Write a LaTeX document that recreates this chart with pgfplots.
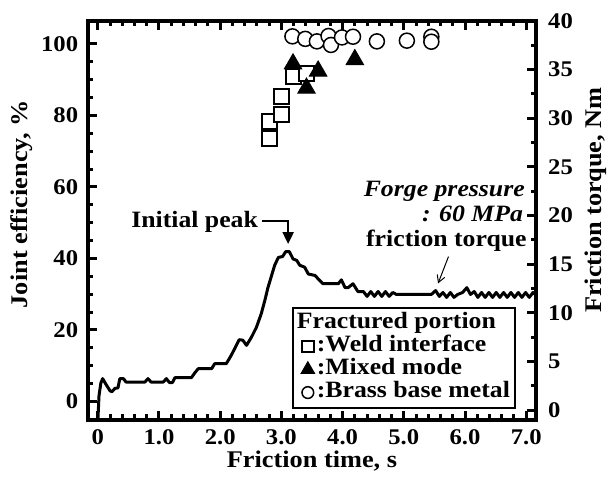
\documentclass[border=0pt]{standalone}
\usepackage{fontspec}
\setmainfont{Liberation Serif}[FakeStretch=1.1]
\usepackage{pgfplots}
\pgfplotsset{compat=1.18}
\usetikzlibrary{arrows.meta}

\newcommand{\tf}{\fontsize{23.5}{25}\selectfont\bfseries}
\newcommand{\kf}{\fontsize{22.5}{24}\selectfont\bfseries}
\newcommand{\lf}{\fontsize{24}{26}\selectfont\bfseries}

\pgfplotsset{
  mylegend/.style={legend image code/.code={%
    \path[draw=none] (0bp,0bp) -- (19bp,0bp);
    \draw[##1,/tikz/every mark/.append style={scale=0.78}] plot coordinates {(11bp,0bp)};}},
  common/.style={
    scale only axis, width=448bp, height=399bp,
    xmin=-0.16, xmax=7.16,
    tick align=inside,
    major tick length=9bp, minor tick length=5.5bp,
    every tick/.style={black, line width=3bp},
    axis line style={line width=4bp},
    /pgf/number format/assume math mode=true,
    every tick label/.append style={font=\kf},
  }
}

\begin{document}
\begin{tikzpicture}
\begin{axis}[common,
  clip mode=individual,
  ymin=-5.2, ymax=106.4,
  xtick={0,1,...,7}, xticklabels={0,1.0,2.0,3.0,4.0,5.0,6.0,7.0},
  minor x tick num=4,
  ytick={0,20,...,100}, minor y tick num=3,
  ytick pos=left, xtick pos=both, xticklabel pos=bottom,
  yticklabel style={inner sep=0bp, xshift=-9.7bp},
  xticklabel style={inner sep=0bp, yshift=-9bp},
  xlabel={Friction time, s},
  xlabel style={at={(axis description cs:0.5,0)}, anchor=base, yshift=-48bp, font=\lf, inner sep=0bp},
  ylabel={Joint efficiency, \%},
  ylabel style={at={(axis description cs:-0.147,0.541)}, anchor=center, font=\lf, inner sep=0bp},
  legend cell align=left,
  legend style={at={(axis description cs:0.455,0.283)}, anchor=north west,
    draw=black, line width=2bp, fill=white, inner sep=4bp,
    row sep=0bp, column sep=0bp, font=\tf,
    nodes={inner sep=1bp, text height=15.5bp, text depth=5.5bp}},
]
\addlegendimage{empty legend}
\addlegendentry{\hspace*{-20bp}Fractured portion}

\addplot[only marks, mark=square*, mark size=7.5bp, line width=2bp,
  mark options={draw=black, fill=white}, mylegend] table {
x y
2.81 73.5
2.81 78.3
3.00 80.3
3.00 85.3
3.19 90.9
3.41 91.7
};
\addlegendentry{:Weld interface}

\addplot[only marks, mark=triangle*, mark size=10bp, line width=1bp,
  mark options={draw=black, fill=black}, mylegend] table {
x y
3.19 94.4
3.41 87.6
3.60 92.4
4.20 95.6
};
\addlegendentry{:Mixed mode}

\addplot[only marks, mark=*, mark size=7.5bp, line width=1.5bp,
  mark options={draw=black, fill=white}, mylegend] table {
x y
3.18 102.1
3.39 101.4
3.58 100.7
3.77 102.2
3.81 99.7
3.99 101.8
4.17 102.0
4.56 100.7
5.05 100.9
5.45 102.0
5.45 100.6
};
\addlegendentry{:Brass base metal}

\draw[line width=2bp, -{Triangle[length=12bp,width=11bp]}] (axis cs:2.68,50.5) -| (axis cs:3.11,44.0);
\node[anchor=base east, inner sep=0bp, font=\tf] at (axis cs:2.62,48.5) {Initial peak};
\node[anchor=base east, inner sep=0bp, font=\tf\itshape] at (axis cs:6.98,57.3) {Forge pressure};
\node[anchor=base east, inner sep=0bp, font=\tf\itshape] at (axis cs:6.95,50.3) {: 60 MPa};
\node[anchor=base east, inner sep=0bp, font=\tf] at (axis cs:7.01,43.3) {friction torque};
\draw[line width=1bp, -{Straight Barb[length=7bp,width=8bp]}] (axis cs:5.73,40.5) -- (axis cs:5.56,33.0);
\end{axis}

\begin{axis}[common,
  ymin=-1, ymax=40,
  hide x axis,
  ytick={0,5,...,40}, minor y tick num=1,
  ytick pos=right, yticklabel pos=right,
  yticklabel style={inner sep=0bp, xshift=12bp},
  ylabel={Friction torque, Nm},
  ylabel style={at={(axis description cs:1.134,0.551)}, anchor=center, font=\lf, inner sep=0bp},
]
\addplot[black, line width=3bp, line join=round] table {
x y
0.00 -1.2
0.02 1.5
0.05 2.8
0.08 3.25
0.13 2.7
0.20 2.0
0.23 1.9
0.28 2.25
0.33 2.3
0.36 3.25
0.42 3.25
0.46 2.9
0.77 2.9
0.82 3.25
0.87 2.9
1.07 2.9
1.12 3.25
1.17 2.85
1.22 2.85
1.26 3.35
1.53 3.35
1.58 3.8
1.64 4.27
1.86 4.27
1.91 4.79
2.10 4.79
2.18 5.64
2.25 6.5
2.31 7.25
2.37 7.2
2.43 6.67
2.51 7.5
2.59 8.5
2.67 9.9
2.73 11.3
2.78 12.6
2.84 13.85
2.89 14.9
2.95 15.7
3.02 15.8
3.07 16.3
3.13 16.3
3.19 15.55
3.25 15.4
3.30 14.9
3.38 14.7
3.44 14.0
3.55 13.85
3.63 13.3
3.68 13.0
3.93 13.0
3.98 13.4
4.04 12.6
4.09 12.6
4.17 13.0
4.25 12.2
4.34 12.2
4.40 11.7
4.46 12.2
4.52 11.7
4.58 12.2
4.64 11.7
4.70 12.2
4.76 11.7
4.82 12.1
4.88 11.9
5.45 11.9
5.52 12.3
5.58 11.7
5.64 12.1
5.70 11.6
5.76 12.1
5.82 11.6
5.88 11.9
5.96 12.1
6.03 12.6
6.09 11.9
6.15 12.2
6.21 11.6
6.27 12.1
6.33 11.6
6.39 12.1
6.45 11.6
6.51 12.1
6.57 11.6
6.63 12.1
6.69 11.6
6.75 12.1
6.81 11.6
6.87 12.1
6.93 11.6
6.99 12.1
7.05 11.6
7.11 12.1
7.17 11.8
};
\end{axis}
\pgfresetboundingbox
\path (current axis.south west) ++(-88bp,-62bp) coordinate (bl);
\path (current axis.north east) ++(80bp,21bp) coordinate (tr);
\useasboundingbox (bl) rectangle (tr);
\end{tikzpicture}
\end{document}
